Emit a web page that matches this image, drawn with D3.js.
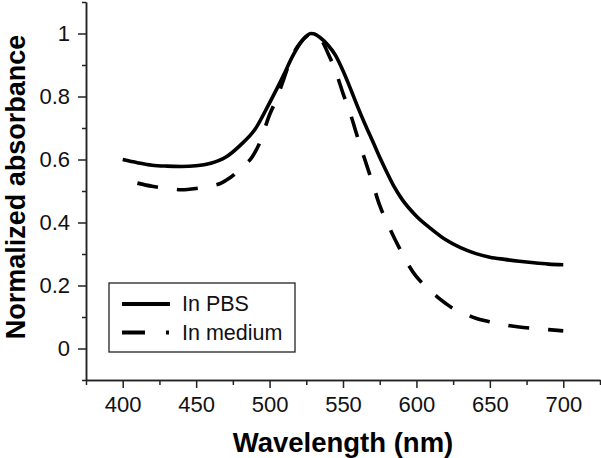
<!DOCTYPE html>
<html>
<head>
<meta charset="utf-8">
<script src="https://cdn.jsdelivr.net/npm/d3@7"></script>
<style>
  html, body { margin: 0; padding: 0; background: #fff; }
  svg { display: block; font-family: "Liberation Sans", Arial, Helvetica, sans-serif; }
</style>
</head>
<body>
<svg id="chart" width="601" height="458"></svg>
<script>
// ---- data ----
const pbsWavelength = [400, 410, 420, 430, 440, 450, 460, 470, 480, 490, 500, 505, 510, 515, 520, 525, 528, 530, 535, 540, 545, 550, 555, 560, 565, 570, 575, 580, 585, 590, 600, 610, 620, 630, 640, 650, 660, 670, 680, 690, 700];
const pbsValues     = [0.600, 0.590, 0.582, 0.579, 0.578, 0.580, 0.588, 0.607, 0.645, 0.695, 0.780, 0.825, 0.872, 0.922, 0.963, 0.992, 1.000, 0.999, 0.985, 0.962, 0.930, 0.882, 0.826, 0.767, 0.712, 0.660, 0.607, 0.558, 0.512, 0.475, 0.420, 0.380, 0.345, 0.320, 0.302, 0.290, 0.283, 0.277, 0.272, 0.268, 0.266];

const mediumWavelength = [410, 420, 430, 440, 450, 460, 467, 470, 477, 480, 488, 493, 500, 505, 510, 515, 520, 525, 530, 535, 540, 545, 550, 555, 560, 565, 570, 575, 580, 585, 590, 595, 600, 605, 610, 615, 620, 625, 630, 640, 650, 660, 670, 680, 690, 700];
const mediumValues     = [0.525, 0.515, 0.508, 0.504, 0.508, 0.516, 0.525, 0.533, 0.557, 0.572, 0.607, 0.650, 0.742, 0.795, 0.860, 0.925, 0.965, 0.990, 1.000, 0.982, 0.935, 0.880, 0.810, 0.745, 0.670, 0.598, 0.527, 0.454, 0.400, 0.350, 0.305, 0.262, 0.228, 0.203, 0.181, 0.161, 0.143, 0.127, 0.117, 0.097, 0.085, 0.075, 0.068, 0.064, 0.060, 0.056];

const xMajorTicks = [400, 450, 500, 550, 600, 650, 700];
const xMinorTicks = [375, 425, 475, 525, 575, 625, 675, 725];
const yMajorTicks = [0, 0.2, 0.4, 0.6, 0.8, 1];
const yMinorTicks = [-0.1, 0.1, 0.3, 0.5, 0.7, 0.9, 1.1];

const seriesNames = ["In PBS", "In medium"];
const xTitle = "Wavelength (nm)";
const yTitle = "Normalized absorbance";

// ---- chart ----
const svg = d3.select("#chart");
const x = d3.scaleLinear().domain([375, 725]).range([86, 600]);
const y = d3.scaleLinear().domain([-0.1, 1.1]).range([380, 2]);

const axisColor = "#222";

// minor ticks
const gxMinor = svg.append("g").attr("transform", `translate(0,${y(-0.1)})`)
  .call(d3.axisBottom(x).tickValues(xMinorTicks).tickSize(5).tickSizeOuter(0).tickFormat(""));
const gyMinor = svg.append("g").attr("transform", `translate(${x(375)},0)`)
  .call(d3.axisLeft(y).tickValues(yMinorTicks).tickSize(4).tickSizeOuter(0).tickFormat(""));

const gx = svg.append("g").attr("transform", `translate(0,${y(-0.1)})`)
  .call(d3.axisBottom(x).tickValues(xMajorTicks).tickSize(8).tickSizeOuter(0).tickPadding(8).tickFormat(d3.format("d")));
const gy = svg.append("g").attr("transform", `translate(${x(375)},0)`)
  .call(d3.axisLeft(y).tickValues(yMajorTicks).tickSize(8).tickSizeOuter(0).tickPadding(8).tickFormat(d => d3.format("~g")(d)));

[gxMinor, gyMinor, gx, gy].forEach(g => {
  g.selectAll("path").attr("stroke", axisColor).attr("stroke-width", 1.5);
  g.selectAll("line").attr("stroke", axisColor).attr("stroke-width", 1.5);
  g.selectAll("text").attr("fill", "#111").style("font-size", "22px")
    .style("font-family", "'Liberation Sans', Arial, sans-serif");
});

// axis titles
svg.append("text")
  .attr("x", 343).attr("y", 452)
  .attr("text-anchor", "middle")
  .style("font-size", "27.5px").style("font-weight", "bold").attr("fill", "#000")
  .text(xTitle);
svg.append("text")
  .attr("transform", "translate(25,187) rotate(-90)")
  .attr("text-anchor", "middle")
  .style("font-size", "27px").style("font-weight", "bold").attr("fill", "#000")
  .text(yTitle);

// lines
const line = d3.line().x(d => x(d[0])).y(d => y(d[1])).curve(d3.curveMonotoneX);
const pbs = d3.zip(pbsWavelength, pbsValues);
const med = d3.zip(mediumWavelength, mediumValues);

svg.append("path").datum(pbs).attr("d", line)
  .attr("fill", "none").attr("stroke", "#000").attr("stroke-width", 3.6)
  .attr("stroke-linejoin", "round");
svg.append("path").datum(med).attr("d", line)
  .attr("fill", "none").attr("stroke", "#000").attr("stroke-width", 3.6)
  .attr("stroke-dasharray", "21,19");

// legend
const lg = svg.append("g");
lg.append("rect").attr("x", 109).attr("y", 283).attr("width", 186).attr("height", 69)
  .attr("fill", "#fff").attr("stroke", axisColor).attr("stroke-width", 1.3);
lg.append("line").attr("x1", 122).attr("x2", 170).attr("y1", 304).attr("y2", 304)
  .attr("stroke", "#000").attr("stroke-width", 4);
lg.append("line").attr("x1", 122).attr("x2", 170).attr("y1", 332.5).attr("y2", 332.5)
  .attr("stroke", "#000").attr("stroke-width", 4).attr("stroke-dasharray", "23,21,3,40");
lg.selectAll("text.lab").data(seriesNames).join("text").attr("class", "lab")
  .attr("x", 182).attr("y", (d, i) => 311 + i * 28.5)
  .style("font-size", "21.5px").attr("fill", "#111")
  .text(d => d);
</script>
</body>
</html>
